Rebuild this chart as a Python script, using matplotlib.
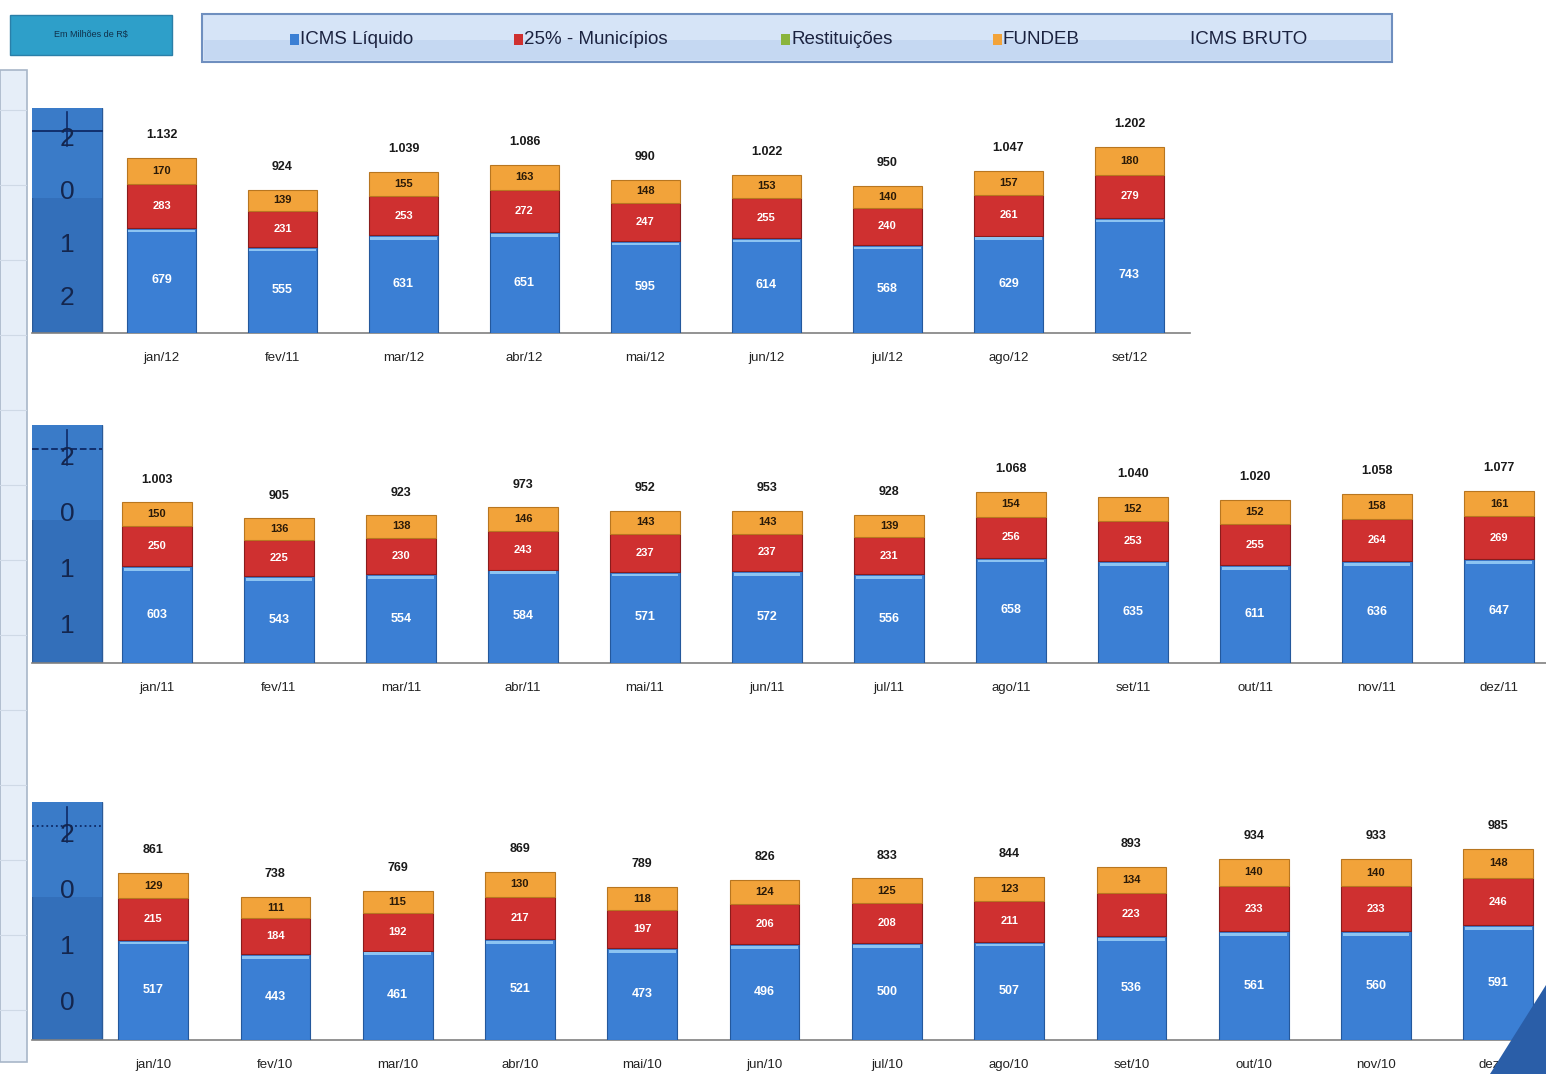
import matplotlib
matplotlib.use("Agg")
import matplotlib.pyplot as plt
from matplotlib.patches import Rectangle, Polygon
import numpy as np

plt.rcParams['font.family'] = ['Liberation Sans', 'DejaVu Sans']

# ---------------- data ----------------
months_2012 = ["jan/12", "fev/11", "mar/12", "abr/12", "mai/12", "jun/12", "jul/12", "ago/12", "set/12"]
liquido_2012 = [679, 555, 631, 651, 595, 614, 568, 629, 743]
municipios_2012 = [283, 231, 253, 272, 247, 255, 240, 261, 279]
restituicoes_2012 = [0, 0, 0, 0, 0, 0, 0, 0, 0]
fundeb_2012 = [170, 139, 155, 163, 148, 153, 140, 157, 180]
bruto_2012 = [1132, 924, 1039, 1086, 990, 1022, 950, 1047, 1202]

months_2011 = ["jan/11", "fev/11", "mar/11", "abr/11", "mai/11", "jun/11", "jul/11", "ago/11", "set/11", "out/11", "nov/11", "dez/11"]
liquido_2011 = [603, 543, 554, 584, 571, 572, 556, 658, 635, 611, 636, 647]
municipios_2011 = [250, 225, 230, 243, 237, 237, 231, 256, 253, 255, 264, 269]
restituicoes_2011 = [0, 0, 0, 0, 0, 0, 0, 0, 0, 0, 0, 0]
fundeb_2011 = [150, 136, 138, 146, 143, 143, 139, 154, 152, 152, 158, 161]
bruto_2011 = [1003, 905, 923, 973, 952, 953, 928, 1068, 1040, 1020, 1058, 1077]

months_2010 = ["jan/10", "fev/10", "mar/10", "abr/10", "mai/10", "jun/10", "jul/10", "ago/10", "set/10", "out/10", "nov/10", "dez/10"]
liquido_2010 = [517, 443, 461, 521, 473, 496, 500, 507, 536, 561, 560, 591]
municipios_2010 = [215, 184, 192, 217, 197, 206, 208, 211, 223, 233, 233, 246]
restituicoes_2010 = [0, 0, 0, 0, 0, 0, 0, 0, 0, 0, 0, 0]
fundeb_2010 = [129, 111, 115, 130, 118, 124, 125, 123, 134, 140, 140, 148]
bruto_2010 = [861, 738, 769, 869, 789, 826, 833, 844, 893, 934, 933, 985]

series_names = ["ICMS Líquido", "25% - Municípios", "Restituições", "FUNDEB", "ICMS BRUTO"]

C_BLUE = "#3b7fd4"
C_RED = "#cf3030"
C_GREEN = "#8ab43c"
C_ORANGE = "#f2a33a"

W, H = 1546, 1074
fig = plt.figure(figsize=(W / 100, H / 100), dpi=100)
fig.patch.set_facecolor("white")


def px_axes(l, t, r, b):
    return fig.add_axes([l / W, 1 - b / H, (r - l) / W, (b - t) / H])


def fig_rect(l, t, r, b, **kw):
    fig.patches.append(Rectangle((l / W, 1 - b / H), (r - l) / W, (b - t) / H,
                                 transform=fig.transFigure, **kw))


# left side panel
fig_rect(0, 70, 27, 1062, facecolor="#e6eef8", edgecolor="#a8b6c8", linewidth=1.2)
for yy in np.arange(110, 1060, 75):
    fig.lines.append(plt.Line2D([0, 26 / W], [1 - yy / H] * 2, transform=fig.transFigure,
                                color="#cfd9e6", linewidth=0.8))

# unit box
fig_rect(10, 15, 172, 55, facecolor="#2e9fc9", edgecolor="#2a7fa8", linewidth=1)
fig.text(91 / W, 1 - 35 / H, "Em Milhões de R$", ha="center", va="center",
         fontsize=6.5, color="#10304a")

# legend box
fig_rect(202, 14, 1392, 62, facecolor="#d6e4f7", edgecolor="#6f8fbf", linewidth=1.5)
fig_rect(204, 40, 1390, 60, facecolor="#c5d8f2", edgecolor="none")
leg_items = [(290, series_names[0], C_BLUE), (514, series_names[1], C_RED),
             (781, series_names[2], C_GREEN), (993, series_names[3], C_ORANGE),
             (1190, series_names[4], None)]
for x, name, col in leg_items:
    tx = x
    if col is not None:
        fig_rect(x, 34, x + 9, 45, facecolor=col, edgecolor="none")
        tx = x + 10
    fig.text(tx / W, 1 - 40 / H, name, ha="left", va="center", fontsize=13.5,
             color="#1c2340")

# bottom-right decorative corner
fig.patches.append(Polygon([(1490 / W, 0), (1 , 0), (1, 1 - 985 / H)], closed=True,
                           transform=fig.transFigure, facecolor="#2a5ea8", edgecolor="none"))

rows = [
    dict(months=months_2012, liq=liquido_2012, mun=municipios_2012, res=restituicoes_2012,
         fun=fundeb_2012, tot=bruto_2012, box=(32, 108, 1190, 333), xlim=(-1.07, 8.5),
         ymax=1452, year="2012", hl="-"),
    dict(months=months_2011, liq=liquido_2011, mun=municipios_2011, res=restituicoes_2011,
         fun=fundeb_2011, tot=bruto_2011, box=(32, 425, 1546, 663), xlim=(-1.025, 11.385),
         ymax=1487, year="2011", hl="--"),
    dict(months=months_2010, liq=liquido_2010, mun=municipios_2010, res=restituicoes_2010,
         fun=fundeb_2010, tot=bruto_2010, box=(32, 802, 1546, 1040), xlim=(-0.99, 11.39),
         ymax=1227, year="2010", hl=":"),
]

bw = 0.57
for r in rows:
    ax = px_axes(*r["box"])
    ax.set_facecolor("none")
    x = np.arange(len(r["months"]))
    liq = np.array(r["liq"]); mun = np.array(r["mun"])
    res = np.array(r["res"]); fun = np.array(r["fun"])
    ax.bar(x, liq, bw, color=C_BLUE, edgecolor="#24589c", linewidth=0.8, zorder=3)
    ax.bar(x, mun, bw, bottom=liq, color=C_RED, edgecolor="#8a1c1c", linewidth=0.8, zorder=3)
    ax.bar(x, res, bw, bottom=liq + mun, color=C_GREEN, edgecolor="none", zorder=3)
    ax.bar(x, fun, bw, bottom=liq + mun + res, color=C_ORANGE, edgecolor="#b87620",
           linewidth=0.8, zorder=3)
    # light highlight at the top of blue segment
    ax.bar(x, np.full_like(liq, r["ymax"] * 0.012, dtype=float), bw * 0.96,
           bottom=liq - r["ymax"] * 0.02, color="#8cc4f2", edgecolor="none", zorder=4)
    for i in range(len(x)):
        ax.text(x[i], liq[i] / 2, str(liq[i]), ha="center", va="center", fontsize=9,
                fontweight="bold", color="white", zorder=5)
        ax.text(x[i], liq[i] + mun[i] / 2, str(mun[i]), ha="center", va="center",
                fontsize=8, fontweight="bold", color="white", zorder=5)
        ax.text(x[i], liq[i] + mun[i] + res[i] + fun[i] / 2, str(fun[i]), ha="center",
                va="center", fontsize=8, fontweight="bold", color="#2a1a08", zorder=5)
        top = liq[i] + mun[i] + res[i] + fun[i]
        tot_txt = f"{r['tot'][i]:,}".replace(",", ".")
        ax.annotate(tot_txt, (x[i], top), xytext=(0, 12), textcoords="offset points",
                    ha="center", va="bottom", fontsize=9, fontweight="bold",
                    color="#1a1a1a", zorder=5)
    ax.set_xlim(*r["xlim"])
    ax.set_ylim(0, r["ymax"])
    ax.set_xticks(x)
    ax.set_xticklabels(r["months"], fontsize=9.5, color="#222222")
    ax.tick_params(axis="x", length=0, pad=14)
    ax.set_yticks([])
    for s in ["top", "left", "right"]:
        ax.spines[s].set_visible(False)
    ax.spines["bottom"].set_color("#808080")
    ax.spines["bottom"].set_linewidth(1.2)
    # year box
    x0 = r["xlim"][0]
    ppu = (r["box"][2] - r["box"][0]) / (r["xlim"][1] - r["xlim"][0])
    bwid = 70 / ppu
    ax.add_patch(Rectangle((x0, 0), bwid, r["ymax"], facecolor="#336fba",
                           edgecolor="#2a5a98", linewidth=1, zorder=2))
    ax.add_patch(Rectangle((x0, r["ymax"] * 0.6), bwid, r["ymax"] * 0.4,
                           facecolor="#3a7bc8", edgecolor="none", zorder=2))
    ax.plot([x0, x0 + bwid], [r["ymax"] * 0.9] * 2, color="#0e2a66", linestyle=r["hl"],
            linewidth=1.3, zorder=3)
    ax.plot([x0 + bwid / 2] * 2, [r["ymax"] * 0.83, r["ymax"] * 0.98], color="#0e2a66",
            linewidth=1.2, zorder=3)
    for k, ch in enumerate(r["year"]):
        ax.text(x0 + bwid / 2, r["ymax"] * (0.86 - k * 0.235), ch, ha="center",
                va="center", fontsize=19, color="#14264e", zorder=4)

fig.savefig("out.png", dpi=100)
